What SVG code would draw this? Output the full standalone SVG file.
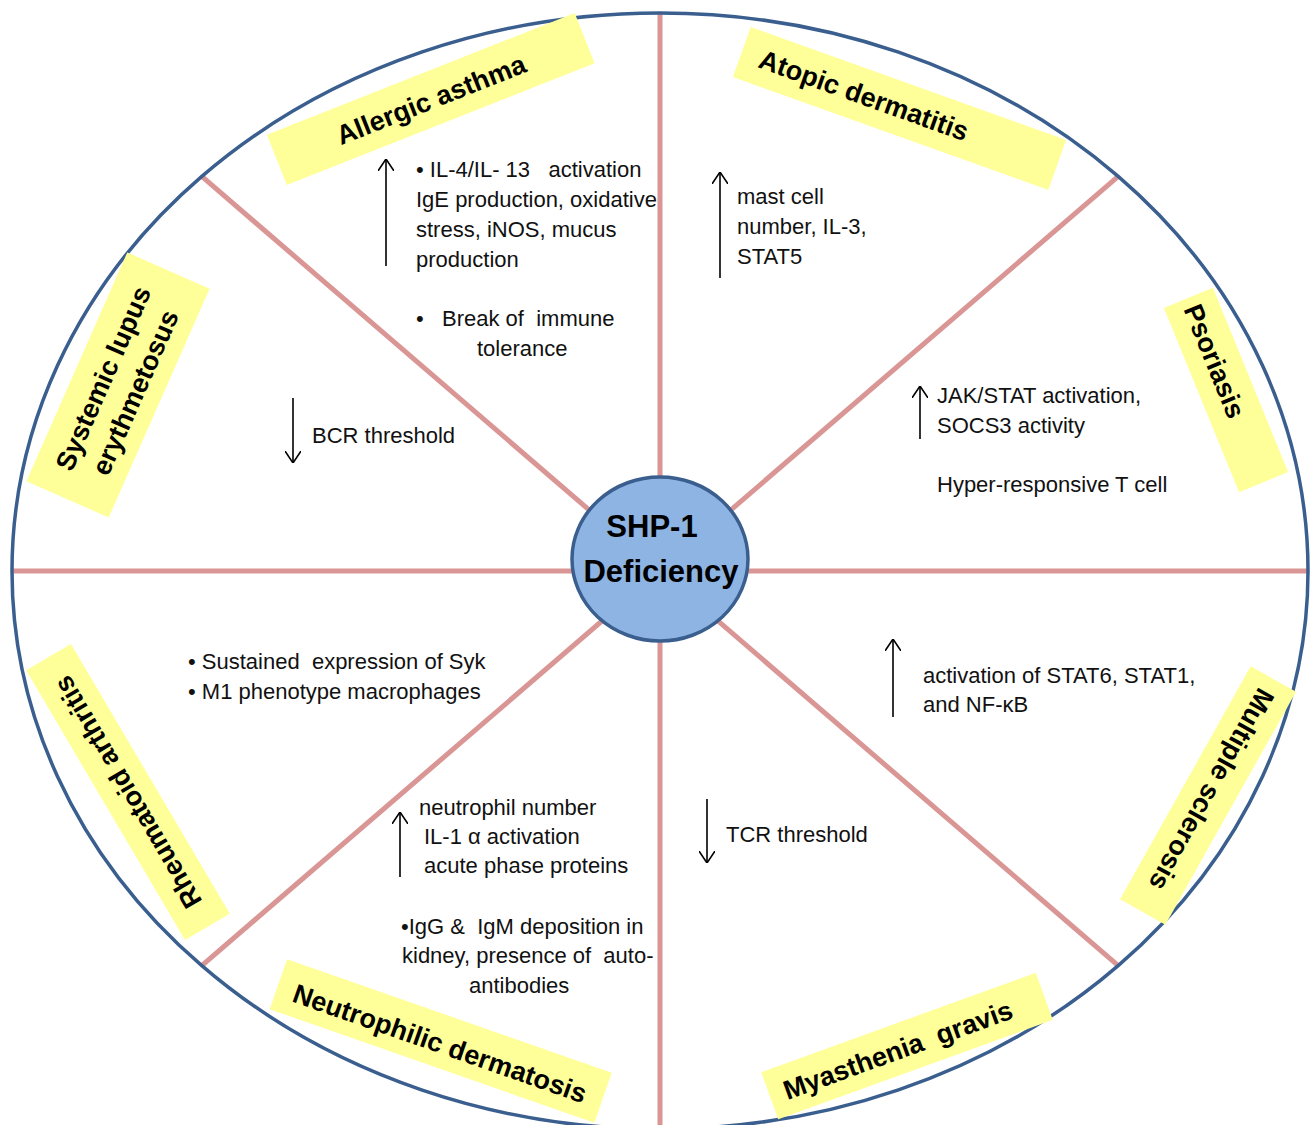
<svg xmlns="http://www.w3.org/2000/svg" width="1312" height="1125" viewBox="0 0 1312 1125">
<defs>
<style>
.spoke{stroke:#D99694;stroke-width:5;fill:none}
.outer{fill:none;stroke:#3A5F8F;stroke-width:3.5}
.hub{fill:#8EB4E3;stroke:#3A5F8F;stroke-width:3.5}
.hubt{font-family:"Liberation Sans",Arial,sans-serif;font-weight:bold;font-size:31px;fill:#000;text-anchor:middle}
.lbl{fill:#FFFF99}
.lt{font-family:"Liberation Sans",Arial,sans-serif;font-weight:bold;font-size:27px;fill:#000;text-anchor:middle;white-space:pre}
.bt{font-family:"Liberation Sans",Arial,sans-serif;font-size:22px;fill:#111;white-space:pre}
.arr{stroke:#000;stroke-width:1.6;fill:none;marker-end:url(#head)}
</style>
<marker id="head" viewBox="0 0 12 16" refX="12" refY="8" markerWidth="12" markerHeight="16" markerUnits="userSpaceOnUse" orient="auto">
<path d="M0,0 L12,8 L0,16" fill="none" stroke="#000" stroke-width="1.6"/>
</marker>
</defs>
<rect width="1312" height="1125" fill="#fff"/>

<g id="connectors">
<line class="spoke" x1="660" y1="13" x2="660" y2="1129"/>
<line class="spoke" x1="12" y1="571" x2="1308" y2="571"/>
<line class="spoke" x1="201.8" y1="176.4" x2="1118.2" y2="965.6"/>
<line class="spoke" x1="1118.2" y1="176.4" x2="201.8" y2="965.6"/>
</g>

<ellipse id="outer-ring" class="outer" cx="660" cy="571" rx="648" ry="558"/>

<g id="hub">
<ellipse class="hub" cx="660" cy="559" rx="88" ry="82"/>
<text class="hubt" x="652" y="537">SHP-1</text>
<text class="hubt" x="661" y="582">Deficiency</text>
</g>

<g id="allergic-asthma">
<g transform="translate(430.75,99) rotate(-21.6)">
<rect class="lbl" x="-165.5" y="-27" width="331" height="54"/>
<text class="lt" x="0" y="10">Allergic asthma</text>
</g>
<line class="arr" x1="386" y1="266" x2="386" y2="159"/>
<text class="bt" x="416" y="177">• IL-4/IL- 13   activation</text>
<text class="bt" x="416" y="207">IgE production, oxidative</text>
<text class="bt" x="416" y="237">stress, iNOS, mucus</text>
<text class="bt" x="416" y="267">production</text>
<text class="bt" x="416" y="326">•   Break of  immune</text>
<text class="bt" x="477" y="356">tolerance</text>
</g>

<g id="atopic-dermatitis">
<g transform="translate(899.5,108.5) rotate(19.7)">
<rect class="lbl" x="-167.5" y="-26.5" width="335" height="53"/>
<text class="lt" x="-38" y="9">Atopic dermatitis</text>
</g>
<line class="arr" x1="720" y1="278" x2="720" y2="172"/>
<text class="bt" x="737" y="204">mast cell</text>
<text class="bt" x="737" y="234">number, IL-3,</text>
<text class="bt" x="737" y="264">STAT5</text>
</g>

<g id="psoriasis">
<g transform="translate(1226,390) rotate(67.8)">
<rect class="lbl" x="-99.5" y="-26.5" width="199" height="53"/>
<text class="lt" x="-31" y="9">Psoriasis</text>
</g>
<line class="arr" x1="920" y1="439" x2="920" y2="386"/>
<text class="bt" x="937" y="403">JAK/STAT activation,</text>
<text class="bt" x="937" y="433">SOCS3 activity</text>
<text class="bt" x="937" y="492">Hyper-responsive T cell</text>
</g>

<g id="systemic-lupus-erythematosus">
<g transform="translate(118,385) rotate(-66.2)">
<rect class="lbl" x="-125" y="-45" width="250" height="90"/>
<text class="lt" x="0" y="-7">Systemic lupus</text>
<text class="lt" x="0" y="28">erythmetosus</text>
</g>
<line class="arr" x1="293" y1="398" x2="293" y2="463"/>
<text class="bt" x="312" y="443">BCR threshold</text>
</g>

<g id="rheumatoid-arthritis">
<g transform="translate(128,792) rotate(-120.5)">
<rect class="lbl" x="-156.5" y="-26" width="313" height="52"/>
<text class="lt" x="0" y="9">Rheumatoid arthritis</text>
</g>
<text class="bt" x="188" y="669">• Sustained  expression of Syk</text>
<text class="bt" x="188" y="699">• M1 phenotype macrophages</text>
</g>

<g id="neutrophilic-dermatosis">
<g transform="translate(440.7,1041) rotate(19.3)">
<rect class="lbl" x="-172" y="-26.5" width="344" height="53"/>
<text class="lt" x="0" y="12">Neutrophilic dermatosis</text>
</g>
<line class="arr" x1="400" y1="877" x2="400" y2="812"/>
<text class="bt" x="419" y="815">neutrophil number</text>
<text class="bt" x="424" y="844">IL-1 α activation</text>
<text class="bt" x="424" y="873">acute phase proteins</text>
<text class="bt" x="401" y="934">•IgG &amp;  IgM deposition in</text>
<text class="bt" x="402" y="963">kidney, presence of  auto-</text>
<text class="bt" x="469" y="993">antibodies</text>
</g>

<g id="myasthenia-gravis">
<g transform="translate(907,1046) rotate(-19.9)">
<rect class="lbl" x="-146" y="-25" width="292" height="50"/>
<text class="lt" x="-10" y="10">Myasthenia  gravis</text>
</g>
<line class="arr" x1="707" y1="799" x2="707" y2="863"/>
<text class="bt" x="726" y="842">TCR threshold</text>
</g>

<g id="multiple-sclerosis">
<g transform="translate(1208,795.5) rotate(119.3)">
<rect class="lbl" x="-133.5" y="-26" width="267" height="52"/>
<text class="lt" x="-7" y="9">Multiple sclerosis</text>
</g>
<line class="arr" x1="893" y1="717" x2="893" y2="639"/>
<text class="bt" x="923" y="683">activation of STAT6, STAT1,</text>
<text class="bt" x="923" y="712">and NF-κB</text>
</g>
</svg>
